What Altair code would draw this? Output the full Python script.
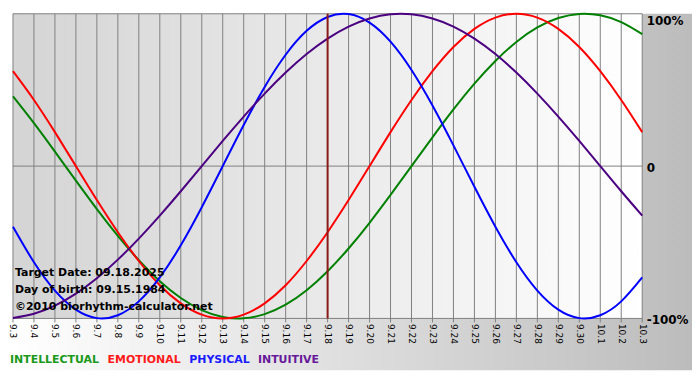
import altair as alt
import pandas as pd

# ---- data ----
dates = ["9.3", "9.4", "9.5", "9.6", "9.7", "9.8", "9.9", "9.10", "9.11", "9.12",
         "9.13", "9.14", "9.15", "9.16", "9.17", "9.18", "9.19", "9.20", "9.21", "9.22",
         "9.23", "9.24", "9.25", "9.26", "9.27", "9.28", "9.29", "9.30", "10.1", "10.2", "10.3"]

intellectual = [0.458, 0.282, 0.095, -0.095, -0.282, -0.458, -0.618, -0.756, -0.866, -0.945,
                -0.990, -0.999, -0.972, -0.910, -0.815, -0.690, -0.541, -0.372, -0.189, 0.0,
                0.189, 0.372, 0.541, 0.690, 0.815, 0.910, 0.972, 0.999, 0.990, 0.945, 0.866]
emotional = [0.623, 0.434, 0.223, 0.0, -0.223, -0.434, -0.623, -0.782, -0.901, -0.975,
             -1.0, -0.975, -0.901, -0.782, -0.623, -0.434, -0.223, 0.0, 0.223, 0.434,
             0.623, 0.782, 0.901, 0.975, 1.0, 0.975, 0.901, 0.782, 0.623, 0.434, 0.223]
physical = [-0.398, -0.631, -0.817, -0.942, -0.998, -0.979, -0.888, -0.731, -0.520, -0.270,
            0.0, 0.270, 0.520, 0.731, 0.888, 0.979, 0.998, 0.942, 0.817, 0.631,
            0.398, 0.136, -0.136, -0.398, -0.631, -0.817, -0.942, -0.998, -0.979, -0.888, -0.731]
intuitive = [-0.997, -0.969, -0.916, -0.837, -0.736, -0.614, -0.476, -0.325, -0.165, 0.0,
             0.165, 0.325, 0.476, 0.614, 0.736, 0.837, 0.916, 0.969, 0.997, 0.997,
             0.969, 0.916, 0.837, 0.736, 0.614, 0.476, 0.325, 0.165, 0.0, -0.165, -0.325]

series_names = ["INTELLECTUAL", "EMOTIONAL", "PHYSICAL", "INTUITIVE"]
series_values = [intellectual, emotional, physical, intuitive]
line_colors = ["#008000", "#ff0000", "#0000ff", "#4b0082"]
legend_colors = ["#1a991a", "#ff1a1a", "#1a1aff", "#661a99"]

target_date = "9.18"
info_lines = ["Target Date: 09.18.2025", "Day of birth: 09.15.1984", "\u00a92010 biorhythm-calculator.net"]
info_y = [-0.70, -0.8125, -0.925]

y_ticks = [1, 0, -1]
y_tick_labels = ["100%", "0", "-100%"]

# ---- layout ----
W, H = 632, 306
RIGHT, BOTTOM = 50, 52
FONT = "DejaVu Sans"

rows = []
for name, vals in zip(series_names, series_values):
    for d, v in zip(dates, vals):
        rows.append({"date": d, "value": v, "series": name})
lines_df = pd.DataFrame(rows)
dates_df = pd.DataFrame({"date": dates})
hrule_df = pd.DataFrame({"value": y_ticks})
target_df = pd.DataFrame({"date": [target_date]})
info_df = pd.DataFrame({"date": [dates[0]] * len(info_lines), "value": info_y, "label": info_lines})
one_df = pd.DataFrame({"k": [0]})

label_expr = " : ".join(
    f"datum.value === {v} ? '{t}'" for v, t in zip(y_ticks, y_tick_labels)
) + " : ''"
legend_color_expr = " : ".join(
    f"datum.label === '{n}' ? '{c}'" for n, c in zip(series_names, legend_colors)
) + " : 'black'"

xs = alt.Scale(type="point", domain=dates, padding=0)
ys = alt.Scale(domain=[-1, 1], nice=False, zero=False)

x_axis = alt.Axis(orient="bottom", labelAngle=90, labelAlign="left", labelBaseline="middle",
                  labelPadding=5, ticks=False, domain=False, grid=False, title=None,
                  labelFont=FONT, labelFontSize=9, labelColor="black",
                  labelOverlap=False, labelFlush=False, zindex=1)
y_axis = alt.Axis(orient="right", values=y_ticks, labelExpr=label_expr, ticks=False,
                  domain=False, grid=False, title=None, labelFont=FONT,
                  labelFontWeight="bold", labelFontSize=12, labelColor="black",
                  labelPadding=4, labelBaseline="middle", labelFlush=False,
                  labelOffset={"condition": {"test": "datum.value === 1", "value": 7}, "value": 1},
                  zindex=1)

x_enc = alt.X("date:N", sort=dates, scale=xs, axis=x_axis)
y_enc = alt.Y("value:Q", scale=ys, axis=y_axis)

outer_grad = alt.LinearGradient(gradient="linear",
                                stops=[alt.GradientStop(color="#ffffff", offset=0),
                                       alt.GradientStop(color="#bcbcbc", offset=1)],
                                x1=0, x2=1, y1=0, y2=0)
plot_grad = alt.LinearGradient(gradient="linear",
                               stops=[alt.GradientStop(color="#d4d4d4", offset=0),
                                      alt.GradientStop(color="#ffffff", offset=1)],
                               x1=0, x2=1, y1=0, y2=0)

bg = alt.Chart(one_df).mark_rect(fill=outer_grad, strokeWidth=0).encode(
    x=alt.value(0), x2=alt.value(W + RIGHT), y=alt.value(0), y2=alt.value(H + BOTTOM))
plotbg = alt.Chart(one_df).mark_rect(fill=plot_grad, strokeWidth=0).encode(
    x=alt.value(0), x2=alt.value(W), y=alt.value(0), y2=alt.value(H))

vgrid = alt.Chart(dates_df).mark_rule(color="#808080", strokeWidth=1).encode(
    x=x_enc, y=alt.value(0), y2=alt.value(H + 4))
hgrid = alt.Chart(hrule_df).mark_rule(color="#808080", strokeWidth=1).encode(
    y=y_enc, x=alt.value(0), x2=alt.value(W))

lines = alt.Chart(lines_df).mark_line(strokeWidth=2, interpolate="natural").encode(
    x=x_enc, y=y_enc,
    color=alt.Color("series:N", scale=alt.Scale(domain=series_names, range=line_colors),
                    legend=alt.Legend(title=None, orient="none", legendX=0, legendY=H + 36,
                                      direction="horizontal", symbolType="circle",
                                      symbolOpacity=0, symbolSize=1,
                                      symbolStrokeWidth=0, labelOffset={"expr": "-14"},
                                      columnPadding=8,
                                      labelFont=FONT, labelFontWeight="bold", labelFontSize=11,
                                      labelColor={"expr": legend_color_expr},
                                      padding=0, zindex=1)))

target = alt.Chart(target_df).mark_rule(color="#8b1a1a", strokeWidth=2).encode(
    x=x_enc, y=alt.value(0), y2=alt.value(H))

info = alt.Chart(info_df).mark_text(align="left", baseline="middle", dx=2, font=FONT,
                                    fontWeight="bold", fontSize=11, color="black").encode(
    x=x_enc, y=y_enc, text="label:N")

chart = alt.layer(bg, plotbg, vgrid, hgrid, lines, target, info).properties(
    width=W, height=H, padding=0, background="white"
).configure_view(stroke=None)

chart.save("out.html", embed_options={"renderer": "svg", "actions": False})
